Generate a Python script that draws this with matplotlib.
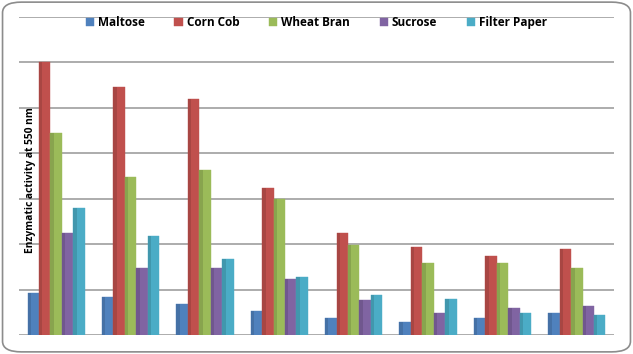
import numpy as np
import matplotlib
matplotlib.use("Agg")
import matplotlib.pyplot as plt
from matplotlib.patches import FancyBboxPatch

series = ["Maltose", "Corn Cob", "Wheat Bran", "Sucrose", "Filter Paper"]
colors = ["#4F81BD", "#C0504D", "#9BBB59", "#8064A2", "#4BACC6"]

maltose      = [0.92, 0.84, 0.68, 0.53, 0.37, 0.29, 0.37, 0.48]
corn_cob     = [6.02, 5.47, 5.19, 3.23, 2.24, 1.93, 1.74, 1.89]
wheat_bran   = [4.44, 3.47, 3.63, 2.99, 1.98, 1.58, 1.58, 1.47]
sucrose      = [2.24, 1.47, 1.47, 1.23, 0.77, 0.48, 0.59, 0.64]
filter_paper = [2.79, 2.18, 1.67, 1.27, 0.88, 0.79, 0.48, 0.44]
values = [maltose, corn_cob, wheat_bran, sucrose, filter_paper]

plt.rcParams['font.family'] = ['Open Sans', 'DejaVu Sans']

fig = plt.figure(figsize=(6.33, 3.54), dpi=100)
ax = fig.add_axes([19/633, 19/354, 595/633, 318/354])

x = np.arange(len(maltose))
w = 0.154
for i, (name, vals, c) in enumerate(zip(series, values, colors)):
    ax.bar(x + (i - 2) * w, vals, width=w, color=c, label=name,
           edgecolor=c, linewidth=0.3, zorder=3)
    # darker strip on the left side of each bar, like the shaded originals
    ax.bar(x + (i - 2) * w - w * 0.35, vals, width=w * 0.3, color='black',
           alpha=0.12, linewidth=0, zorder=4)

ax.set_xlim(-0.5, len(maltose) - 0.5)
ax.set_ylim(0, 7)
ax.set_yticks(np.arange(0, 8))
ax.grid(axis='y', color='#a6a6a6', linewidth=1.3, zorder=0)
ax.set_xticks([])
ax.tick_params(axis='y', length=0, labelleft=False)
for s in ax.spines.values():
    s.set_visible(False)

leg = ax.legend(loc='upper center', bbox_to_anchor=(0.5, 1.035), ncol=5,
                frameon=False, handlelength=0.7, handleheight=0.7,
                handletextpad=0.35, columnspacing=2.5,
                prop={'weight': 'bold', 'size': 8.5})

fig.text(31/633, 1 - 180/354, "Enzymatic activity at 550 nm", rotation=90,
         ha='center', va='center', fontsize=7.4, fontweight='bold')

border = FancyBboxPatch((0.004, 0.006), 0.992, 0.988,
                        boxstyle="round,pad=0,rounding_size=0.03",
                        transform=fig.transFigure, fill=False,
                        edgecolor='#8c8c8c', linewidth=1.2)
fig.patches.append(border)

fig.savefig("out.png", dpi=100)
